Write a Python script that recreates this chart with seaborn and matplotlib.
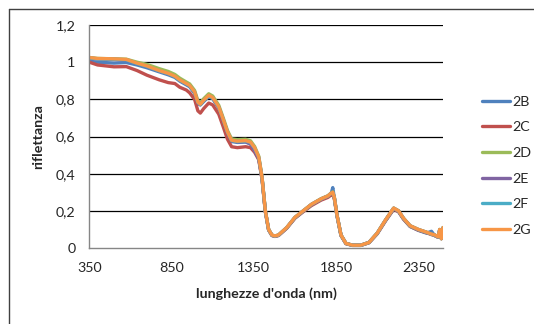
import matplotlib
matplotlib.use("Agg")
import matplotlib.pyplot as plt
import seaborn as sns
import numpy as np
import pandas as pd
from matplotlib.lines import Line2D

# lunghezze d'onda (nm)
lunghezze = [350, 400, 500, 575, 640, 700, 775, 830, 870, 900, 940, 960, 990, 1010, 1025, 1045,
             1076, 1100, 1137, 1165, 1190, 1215, 1250, 1300, 1330, 1355, 1380, 1400, 1420,
             1440, 1460, 1478, 1500, 1550, 1600, 1650, 1700, 1760, 1800, 1820, 1830, 1840,
             1855, 1880, 1910, 1950, 2000, 2050, 2100, 2150, 2200, 2230, 2260, 2300, 2350,
             2400, 2430, 2450, 2470, 2480, 2490, 2500]

r_2B = [1.005, 1.000, 0.995, 0.998, 0.985, 0.970, 0.948, 0.932, 0.918, 0.898, 0.878, 0.868, 0.832, 0.778, 0.770, 0.788,
        0.815, 0.803, 0.753, 0.683, 0.618, 0.573, 0.568, 0.570, 0.560, 0.528, 0.482, 0.375, 0.198,
        0.098, 0.068, 0.063, 0.068, 0.108, 0.162, 0.197, 0.232, 0.262, 0.278, 0.292, 0.325, 0.265,
        0.178, 0.068, 0.024, 0.014, 0.014, 0.029, 0.078, 0.147, 0.210, 0.196, 0.156, 0.116, 0.095,
        0.080, 0.090, 0.066, 0.058, 0.090, 0.050, 0.100]

r_2C = [1.000, 0.985, 0.975, 0.976, 0.955, 0.930, 0.905, 0.890, 0.885, 0.865, 0.850, 0.835, 0.800, 0.738, 0.726, 0.750,
        0.780, 0.770, 0.720, 0.650, 0.585, 0.545, 0.540, 0.545, 0.540, 0.515, 0.475, 0.370, 0.195,
        0.097, 0.067, 0.062, 0.067, 0.106, 0.160, 0.195, 0.228, 0.258, 0.272, 0.285, 0.290, 0.262,
        0.176, 0.067, 0.023, 0.014, 0.014, 0.028, 0.076, 0.145, 0.208, 0.195, 0.155, 0.116, 0.096,
        0.082, 0.072, 0.067, 0.058, 0.092, 0.050, 0.102]

r_2D = [1.025, 1.020, 1.018, 1.016, 1.000, 0.988, 0.965, 0.950, 0.934, 0.914, 0.893, 0.883, 0.848, 0.793, 0.782, 0.803,
        0.830, 0.818, 0.768, 0.698, 0.632, 0.587, 0.583, 0.585, 0.577, 0.546, 0.494, 0.382, 0.201,
        0.100, 0.070, 0.065, 0.070, 0.110, 0.165, 0.200, 0.235, 0.266, 0.281, 0.296, 0.302, 0.270,
        0.180, 0.070, 0.025, 0.015, 0.015, 0.030, 0.080, 0.150, 0.215, 0.200, 0.160, 0.120, 0.100,
        0.085, 0.075, 0.070, 0.060, 0.100, 0.050, 0.110]

r_2E = [1.022, 1.017, 1.015, 1.012, 0.993, 0.977, 0.952, 0.937, 0.922, 0.902, 0.882, 0.872, 0.837, 0.782, 0.771, 0.792,
        0.819, 0.807, 0.757, 0.687, 0.622, 0.577, 0.572, 0.573, 0.560, 0.522, 0.480, 0.376, 0.199,
        0.099, 0.069, 0.064, 0.069, 0.109, 0.164, 0.199, 0.234, 0.264, 0.279, 0.294, 0.299, 0.269,
        0.179, 0.069, 0.025, 0.015, 0.015, 0.030, 0.079, 0.149, 0.214, 0.199, 0.159, 0.119, 0.099,
        0.084, 0.074, 0.069, 0.059, 0.098, 0.052, 0.108]

r_2F = [1.023, 1.018, 1.016, 1.013, 0.993, 0.978, 0.953, 0.938, 0.923, 0.903, 0.883, 0.873, 0.838, 0.783, 0.772, 0.793,
        0.820, 0.808, 0.758, 0.688, 0.623, 0.578, 0.573, 0.576, 0.568, 0.538, 0.488, 0.378, 0.199,
        0.099, 0.069, 0.064, 0.069, 0.109, 0.164, 0.199, 0.234, 0.264, 0.279, 0.294, 0.299, 0.269,
        0.179, 0.069, 0.025, 0.015, 0.015, 0.030, 0.079, 0.149, 0.214, 0.199, 0.159, 0.119, 0.099,
        0.084, 0.074, 0.069, 0.059, 0.099, 0.051, 0.109]

r_2G = [1.025, 1.020, 1.018, 1.015, 0.995, 0.980, 0.955, 0.940, 0.925, 0.905, 0.885, 0.875, 0.840, 0.785, 0.774, 0.795,
        0.822, 0.810, 0.760, 0.690, 0.625, 0.580, 0.575, 0.578, 0.570, 0.540, 0.490, 0.380, 0.200,
        0.100, 0.070, 0.065, 0.070, 0.110, 0.165, 0.200, 0.235, 0.265, 0.280, 0.295, 0.300, 0.270,
        0.180, 0.070, 0.025, 0.015, 0.015, 0.030, 0.080, 0.150, 0.215, 0.200, 0.160, 0.120, 0.100,
        0.085, 0.075, 0.070, 0.060, 0.100, 0.050, 0.110]

campioni = ["2B", "2C", "2D", "2E", "2F", "2G"]
colori = ["#4F81BD", "#C0504D", "#9BBB59", "#8064A2", "#4BACC6", "#F79646"]
serie = [r_2B, r_2C, r_2D, r_2E, r_2F, r_2G]

y_ticks = [0, 0.2, 0.4, 0.6, 0.8, 1.0, 1.2]
y_labels = ["0", "0,2", "0,4", "0,6", "0,8", "1", "1,2"]
x_ticks = [350, 850, 1350, 1850, 2350]

df = pd.concat([pd.DataFrame({"wl": lunghezze, "rifl": s, "campione": c})
                for c, s in zip(campioni, serie)], ignore_index=True)

sns.set_style("white")
plt.rcParams["font.family"] = ["Lato", "DejaVu Sans"]
fs = 10.3

fig = plt.figure(figsize=(5.34, 3.24), dpi=100)
ax = fig.add_axes([89.3 / 534, 1 - 248 / 324, (443 - 89.3) / 534, 223 / 324])

for y in y_ticks[1:]:
    ax.axhline(y, color="black", lw=0.9, zorder=0)

sns.lineplot(data=df, x="wl", y="rifl", hue="campione", hue_order=campioni,
             palette=colori, linewidth=2.4, ax=ax, legend=True)

ax.set_xlim(350, 2500)
ax.set_ylim(0, 1.2)
ax.set_xticks(x_ticks)
ax.set_xticklabels([str(t) for t in x_ticks], fontsize=fs)
ax.set_yticks(y_ticks)
ax.set_yticklabels(y_labels, fontsize=fs)
ax.tick_params(axis="both", length=0)
ax.tick_params(axis="y", pad=10)
ax.tick_params(axis="x", pad=10)

for side in ["top", "right"]:
    ax.spines[side].set_visible(False)
for side in ["left", "bottom"]:
    ax.spines[side].set_color("#868686")
    ax.spines[side].set_linewidth(1)

ax.set_xlabel("lunghezze d'onda (nm)", fontsize=fs, fontweight="bold", labelpad=10)
ax.set_ylabel("riflettanza", fontsize=fs, fontweight="bold", labelpad=8)

leg = ax.legend(loc="upper left", bbox_to_anchor=(476 / 534, 1 - 90 / 324),
                bbox_transform=fig.transFigure, frameon=False, fontsize=fs,
                handlelength=2.0, handletextpad=0.12, labelspacing=0.95, borderaxespad=0)
for h in leg.get_lines():
    h.set_linewidth(2.4)

# cornice del grafico
fig.add_artist(Line2D([9 / 534, 1], [1 - 9 / 324, 1 - 9 / 324], color="#404040", lw=1))
fig.add_artist(Line2D([9 / 534, 9 / 534], [0, 1 - 9 / 324], color="#404040", lw=1))

fig.savefig("out.png", dpi=100)
